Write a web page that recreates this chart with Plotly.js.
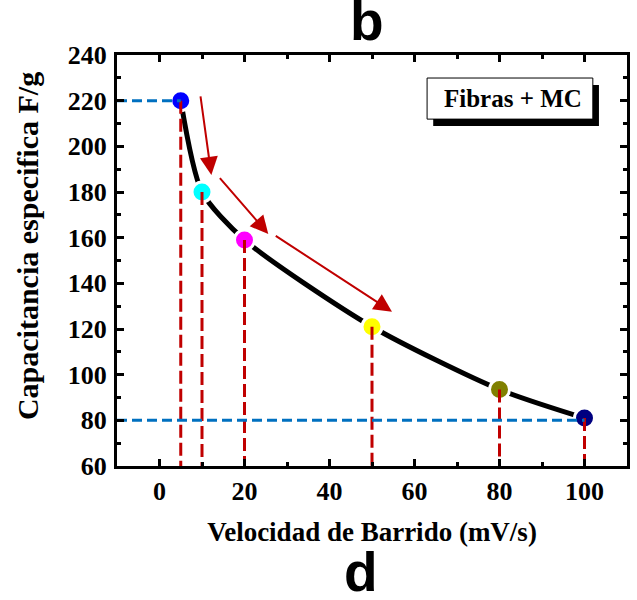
<!DOCTYPE html>
<html>
<head>
<meta charset="utf-8">
<script src="https://cdn.plot.ly/plotly-3.0.1.min.js"></script>
<style>
  html, body { margin: 0; padding: 0; background: #ffffff; }
  #chart { width: 637px; height: 600px; }
</style>
</head>
<body>
<div id="chart"></div>
<script>
// Scan rate (mV/s) and specific capacitance (F/g)
const scanRate = [5, 10, 20, 50, 80, 100];
const capacitance = [220, 180, 159, 121, 93.5, 81];
const pointColors = ['#0000ff', '#00ffff', '#ff00ff', '#ffff00', '#808000', '#000080'];

// Horizontal reference levels and where each one stops
const guideLevels = [220, 80];
const guideEndX = [5, 100];

// Trend arrows: tail and head in data units
const arrowTailX = [9.6, 13.9, 27.0];
const arrowTailY = [222.5, 186.7, 161.2];
const arrowHeadX = [12.2, 25.6, 54.7];
const arrowHeadY = [187.5, 161.6, 127.6];

const xTickVals = [0, 20, 40, 60, 80, 100];
const yTickVals = [60, 80, 100, 120, 140, 160, 180, 200, 220, 240];

const X_MIN = -10, X_MAX = 110, Y_MIN = 60, Y_MAX = 240;
const RED = '#c00000', BLUE = '#0070c0';
const SERIF = 'Liberation Serif';
const SANS = 'Liberation Sans';

const traces = [];

// smooth black curve through the measurements
traces.push({
  x: scanRate, y: capacitance, type: 'scatter', mode: 'lines',
  line: { color: '#000000', width: 5, shape: 'spline', smoothing: 0.7 },
  hoverinfo: 'skip', showlegend: false
});

// coloured markers; the white rim opens a gap in the curve
traces.push({
  x: scanRate, y: capacitance, type: 'scatter', mode: 'markers',
  marker: { size: 20, color: pointColors, line: { color: '#ffffff', width: 3 } },
  showlegend: false
});

// drop lines from each point to the bottom axis
scanRate.forEach((sx, i) => {
  traces.push({
    x: [sx, sx], y: [capacitance[i], Y_MIN], type: 'scatter', mode: 'lines',
    line: { color: RED, width: 3, dash: '13px,5px' },
    hoverinfo: 'skip', showlegend: false
  });
});

// horizontal guides from the left axis
guideLevels.forEach((gy, i) => {
  traces.push({
    x: [X_MIN, guideEndX[i]], y: [gy, gy], type: 'scatter', mode: 'lines',
    line: { color: BLUE, width: 3, dash: '10px,5px' },
    hoverinfo: 'skip', showlegend: false
  });
});

const annotations = arrowHeadX.map((hx, i) => ({
  x: hx, y: arrowHeadY[i], xref: 'x', yref: 'y',
  ax: arrowTailX[i], ay: arrowTailY[i], axref: 'x', ayref: 'y',
  text: '', showarrow: true, arrowhead: 2, arrowsize: 1.8, arrowwidth: 2,
  arrowcolor: RED, standoff: 0, startstandoff: 0
}));

// label inside the framed box
annotations.push({
  xref: 'paper', yref: 'paper', x: 0.7765, y: 0.894,
  xanchor: 'center', yanchor: 'middle', showarrow: false,
  text: 'Fibras + MC',
  font: { family: SERIF, size: 25, color: '#000000', weight: 700 }
});

// vertical axis caption, set a little above the axis midpoint
annotations.push({
  xref: 'paper', yref: 'paper', x: -0.1765, y: 0.535,
  xanchor: 'center', yanchor: 'middle', showarrow: false, textangle: -90,
  text: 'Capacitancia especifica F/g',
  font: { family: SERIF, size: 30, color: '#000000', weight: 700 }
});

// panel letters
annotations.push({
  xref: 'paper', yref: 'paper', x: 0.49, y: 1.082,
  xanchor: 'center', yanchor: 'middle', showarrow: false,
  text: 'b', font: { family: SANS, size: 55, color: '#000000', weight: 700 }
});
annotations.push({
  xref: 'paper', yref: 'paper', x: 0.478, y: -0.258,
  xanchor: 'center', yanchor: 'middle', showarrow: false,
  text: 'd', font: { family: SANS, size: 55, color: '#000000', weight: 700 }
});

const shapes = [
  // drop shadow of the label box
  { type: 'rect', xref: 'paper', yref: 'paper', x0: 0.620, x1: 0.945, y0: 0.827, y1: 0.927,
    fillcolor: '#000000', line: { width: 0 }, layer: 'above' },
  // label box
  { type: 'rect', xref: 'paper', yref: 'paper', x0: 0.608, x1: 0.933, y0: 0.844, y1: 0.944,
    fillcolor: '#ffffff', line: { color: '#000000', width: 1 }, layer: 'above' }
];

const axisCommon = {
  showgrid: false, zeroline: false, showline: true, linecolor: '#000000', linewidth: 3,
  mirror: 'ticks', ticks: 'inside', ticklen: 7, tickwidth: 3, tickcolor: '#000000',
  tickfont: { family: SERIF, size: 26, color: '#000000', weight: 700 }
};

const layout = {
  width: 637, height: 600,
  margin: { l: 117, r: 10, t: 55, b: 134 },
  paper_bgcolor: '#ffffff', plot_bgcolor: '#ffffff',
  showlegend: false,
  xaxis: Object.assign({}, axisCommon, {
    range: [X_MIN, X_MAX], tickmode: 'array', tickvals: xTickVals,
    minor: { dtick: 10, tick0: 0, ticks: 'inside', ticklen: 4, tickwidth: 3, tickcolor: '#000000' },
    title: { text: 'Velocidad de Barrido (mV/s)', standoff: 17,
      font: { family: SERIF, size: 27, color: '#000000', weight: 700 } }
  }),
  yaxis: Object.assign({}, axisCommon, {
    range: [Y_MIN, Y_MAX], tickmode: 'array', tickvals: yTickVals,
    ticklabelstandoff: 2,
    minor: { dtick: 10, tick0: 0, ticks: 'inside', ticklen: 4, tickwidth: 3, tickcolor: '#000000' }
  }),
  annotations: annotations,
  shapes: shapes
};

Plotly.newPlot('chart', traces, layout, { displayModeBar: false, staticPlot: true });
</script>
</body>
</html>
